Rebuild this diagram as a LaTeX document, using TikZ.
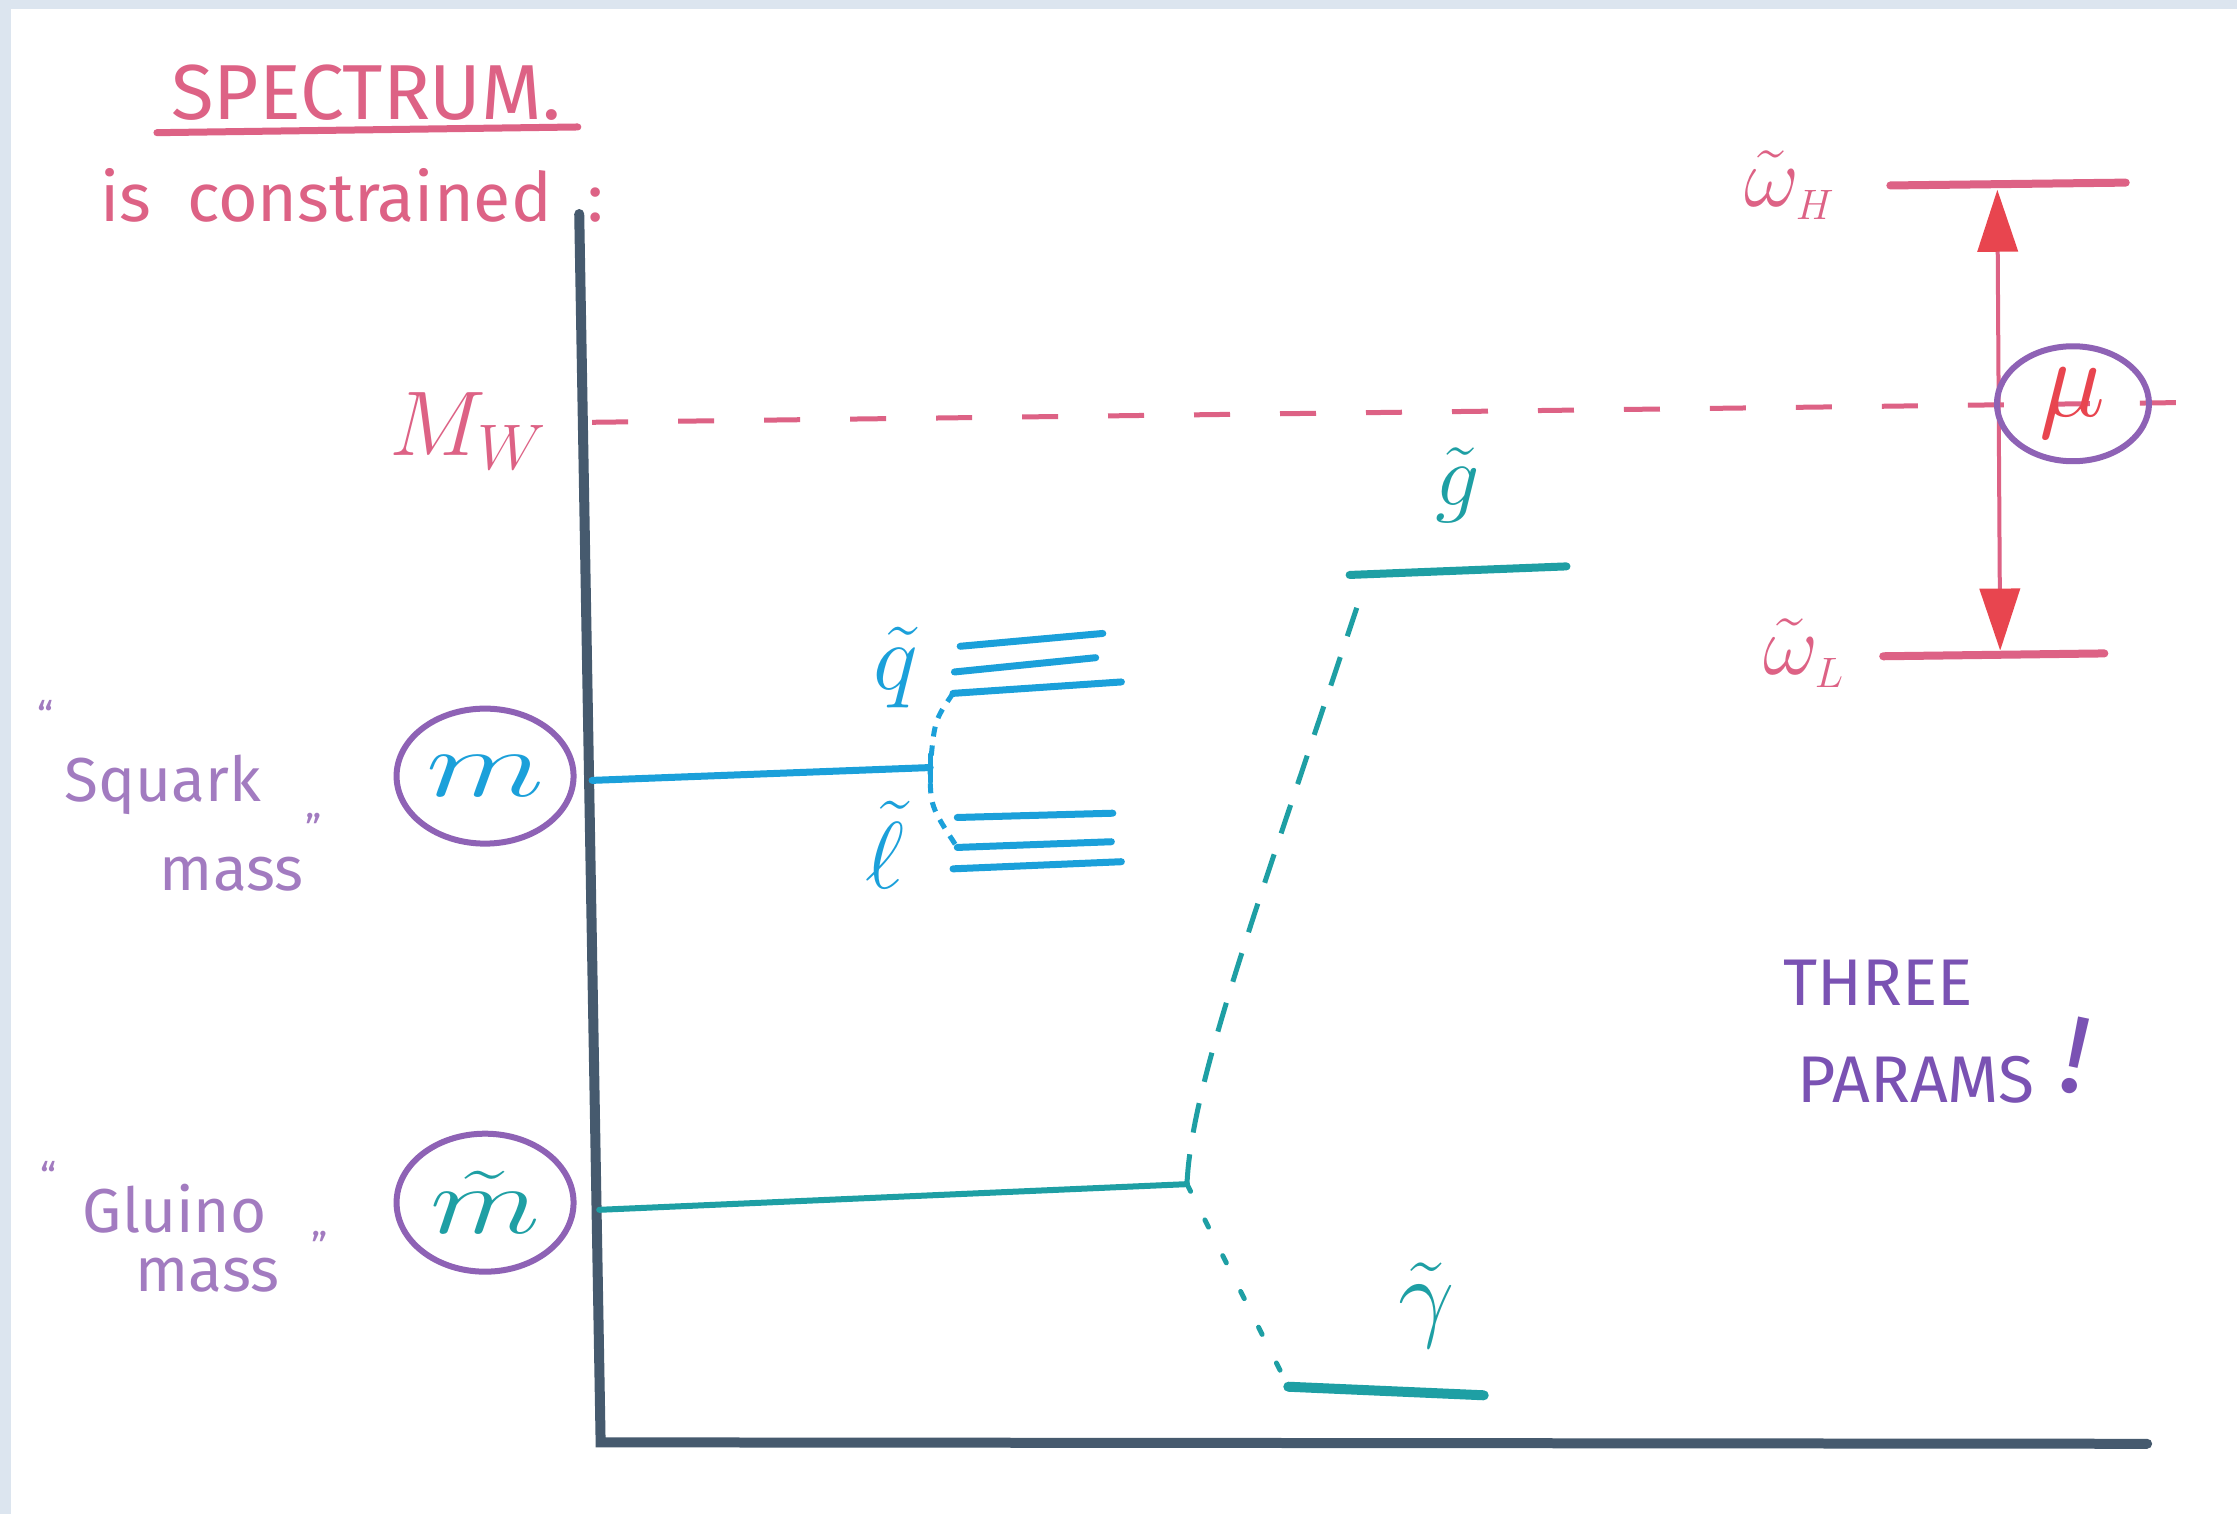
\RequirePackage{fix-cm}
\documentclass[tikz,border=0pt]{standalone}
\usepackage{fontspec}
\usepackage{graphicx}
\setmainfont{Fira Sans}
\usetikzlibrary{arrows.meta,shapes.geometric}
\definecolor{bgblue}{HTML}{DCE5EF}
\definecolor{axiscol}{HTML}{465A6E}
\definecolor{pinkink}{HTML}{DD6285}
\definecolor{redink}{HTML}{E8454F}
\definecolor{blueink}{HTML}{1BA0DA}
\definecolor{tealink}{HTML}{1E9FA4}
\definecolor{lavink}{HTML}{A27BC0}
\definecolor{circink}{HTML}{8E62B5}
\definecolor{violink}{HTML}{7A52B3}
\begin{document}
\begin{tikzpicture}[x=1.4267pt,y=-1.4267pt,
  axisline/.style={axiscol,line width=10pt,line cap=round},
  pinkline/.style={pinkink,line width=8pt,line cap=round},
  blueline/.style={blueink,line width=7pt,line cap=round},
  tealline/.style={tealink,line width=7pt,line cap=round},
  lbl/.style={inner sep=0pt},
  ring/.style={ellipse,draw=circink,line width=6pt,inner sep=0pt},
  hand/.style={lavink,inner sep=0pt,font=\fontsize{62}{62}\selectfont},
  dblarrow/.style={pinkink,line width=4pt,>={Triangle[length=62pt,width=40pt,color=redink,fill=redink]},<->}]
\fill[bgblue] (0,0) rectangle (1568,1061);
\fill[white] (8,6) rectangle (1568,1061);
\useasboundingbox (0,0) rectangle (1568,1061);

% title
\node[lbl,pinkink,anchor=base west,font=\fontsize{78}{78}\selectfont] (title) at (120,84) {SPECTRUM.};
\coordinate (ulA) at (110,93);
\coordinate (ulB) at (405,89);
\draw[pinkink,line width=7pt,line cap=round] (ulA) -- (ulB);
\node[lbl,pinkink,anchor=base west,font=\fontsize{68}{68}\selectfont] (constr) at (70,155) {is\ \ constrained\ \ :};

% axes
\coordinate (ytop) at (406,150);
\coordinate (orig) at (421,1011);
\coordinate (xend) at (1505,1012);
\draw[axisline] (ytop) -- (orig) -- (xend);

% M_W dashed line
\node[lbl,pinkink,font=\fontsize{92}{92}\selectfont] (mw) at (328,302) {$M_W$};
\coordinate (dashA) at (415,296);
\coordinate (dashB) at (1542,282);
\draw[pinkink,line width=5pt,dash pattern=on 36pt off 50pt] (dashA) -- (dashB);

% squark mass
\node[hand,anchor=base west,font=\fontsize{40}{40}\selectfont] (q1) at (26,512) {``};
\node[hand,anchor=base west] (sq) at (45,562) {Squark};
\node[hand,anchor=base west,font=\fontsize{40}{40}\selectfont] (q2) at (214,573) {,,};
\node[hand,anchor=base west] (sqm) at (112,624) {mass};
\node[ring,minimum width=177pt,minimum height=135pt] (msq) at (340,544) {};
\node[lbl,blueink] (msqt) at (msq.center)
  {\scalebox{1.45}[1]{\fontsize{95}{95}\selectfont$m$}};

% squark level lines
\coordinate (sqA) at (415,547);
\coordinate (sqX) at (652,538);
\coordinate (tickA) at (652,529);
\coordinate (tickB) at (652,548);
\draw[blueline] (sqA) -- (sqX);
\draw[blueline,line width=5pt] (tickA) -- (tickB);
\coordinate (qa1) at (673,453); \coordinate (qb1) at (773,444);
\coordinate (qa2) at (669,471); \coordinate (qb2) at (768,461);
\coordinate (qa3) at (668,486); \coordinate (qb3) at (786,478);
\coordinate (la1) at (671,573); \coordinate (lb1) at (780,570);
\coordinate (la2) at (671,594); \coordinate (lb2) at (779,590);
\coordinate (la3) at (668,609); \coordinate (lb3) at (786,604);
\foreach \a/\b in {qa1/qb1,qa2/qb2,qa3/qb3,la1/lb1,la2/lb2,la3/lb3}
  \draw[blueline] (\a) -- (\b);
\draw[blueink,line width=5pt,dash pattern=on 10pt off 9pt]
  (qa3) .. controls (655,505) .. (sqX) .. controls (652,565) .. (la2);
\node[lbl,blueink,font=\fontsize{95}{95}\selectfont] (qlab) at (628,468) {$\tilde q$};
\node[lbl,blueink,font=\fontsize{95}{95}\selectfont] (llab) at (620,592) {$\tilde \ell$};

% gluino mass
\node[hand,anchor=base west,font=\fontsize{40}{40}\selectfont] (g1) at (28,835) {``};
\node[hand,anchor=base west] (gl) at (58,864) {Gluino};
\node[hand,anchor=base west,font=\fontsize{40}{40}\selectfont] (g2) at (218,866) {,,};
\node[hand,anchor=base west] (glm) at (95,905) {mass};
\node[ring,minimum width=177pt,minimum height=138pt] (mgl) at (340,843) {};
\node[lbl,tealink] (mglt) at (mgl.center)
  {\scalebox{1.35}[1]{\fontsize{95}{95}\selectfont$\tilde m$}};

\coordinate (glA) at (420,848);
\coordinate (glX) at (832,830);
\coordinate (gA) at (946,403);
\coordinate (gB) at (1098,397);
\coordinate (gDot) at (955,414);
\coordinate (gamA) at (903,972);
\coordinate (gamB) at (1040,978);
\draw[tealline,line width=6pt] (glA) -- (glX);
\draw[tealline,line width=8pt] (gA) -- (gB);
\draw[tealline,line width=10pt] (gamA) -- (gamB);
\draw[tealink,line width=5pt,dash pattern=on 30pt off 22pt]
  (glX) .. controls (835,760) and (880,640) .. (gDot);
\draw[tealink,line width=5pt,line cap=round,dash pattern=on 8pt off 32pt]
  (glX) -- (gamA);
\node[lbl,tealink,font=\fontsize{88}{88}\selectfont] (glab) at (1022,340) {$\tilde g$};
\node[lbl,tealink,font=\fontsize{100}{100}\selectfont] (gamlab) at (1000,915) {$\tilde \gamma$};

% higgsino / wino levels
\coordinate (hA) at (1325,130);
\coordinate (hB) at (1490,128);
\coordinate (lA) at (1320,460);
\coordinate (lB) at (1475,458);
\draw[pinkline] (hA) -- (hB);
\draw[pinkline] (lA) -- (lB);
\node[lbl,pinkink,font=\fontsize{85}{85}\selectfont] (wh) at (1254,130) {$\tilde\omega_{\scriptscriptstyle H}$};
\node[lbl,pinkink,font=\fontsize{85}{85}\selectfont] (wl) at (1264,458) {$\tilde\omega_{\scriptscriptstyle L}$};
\coordinate (arT) at (1400,133);
\coordinate (arB) at (1402,456);
\draw[dblarrow] (arT) -- (arB);
\node[ring,minimum width=152pt,minimum height=115pt] (mu) at (1453,283) {};
\node[lbl,redink,font=\fontsize{112}{112}\selectfont] (mut) at (mu.center) {$\mu$};

% three params
\node[lbl,violink,anchor=base west,font=\fontsize{66}{66}\selectfont] (three) at (1250,705) {THREE};
\node[lbl,violink,anchor=base west,font=\fontsize{66}{66}\selectfont] (params) at (1260,773) {PARAMS};
\node[lbl,violink,rotate=-12,font=\fontsize{110}{110}\selectfont] (bang) at (1455,740) {!};
\end{tikzpicture}
\end{document}
